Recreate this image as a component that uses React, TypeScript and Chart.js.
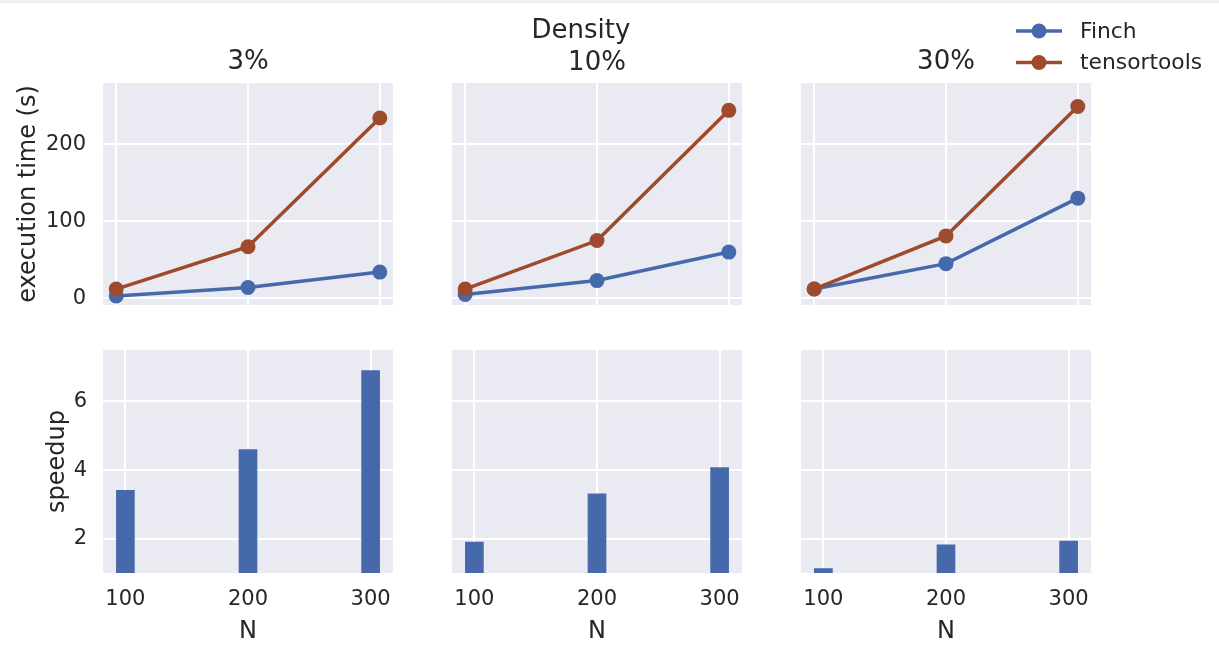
import React, { useEffect, useRef } from "react";
import { Chart, registerables } from "chart.js";

Chart.register(...registerables);

// ---------- data ----------
const N_VALUES = [100, 200, 300];
const DENSITY_LABELS = ["3%", "10%", "30%"];
const SUPTITLE = "Density";
const SERIES_LABELS = ["Finch", "tensortools"];

const FINCH_TIME_3 = [3, 14, 34];
const FINCH_TIME_10 = [5, 23, 60];
const FINCH_TIME_30 = [12, 45, 130];
const TENSORTOOLS_TIME_3 = [12, 67, 234];
const TENSORTOOLS_TIME_10 = [12, 75, 244];
const TENSORTOOLS_TIME_30 = [12, 81, 249];

const SPEEDUP_3 = [3.41, 4.6, 6.9];
const SPEEDUP_10 = [1.9, 3.31, 4.07];
const SPEEDUP_30 = [1.13, 1.82, 1.93];

const TIME_TICKS = [0, 100, 200];
const SPEEDUP_TICKS = [2, 4, 6];
const Y_LABEL_TIME = "execution time (s)";
const Y_LABEL_SPEEDUP = "speedup";
const X_LABEL = "N";

const FINCH_TIMES = [FINCH_TIME_3, FINCH_TIME_10, FINCH_TIME_30];
const TT_TIMES = [TENSORTOOLS_TIME_3, TENSORTOOLS_TIME_10, TENSORTOOLS_TIME_30];
const SPEEDUPS = [SPEEDUP_3, SPEEDUP_10, SPEEDUP_30];

// ---------- style ----------
const FONT = "'DejaVu Sans', 'Liberation Sans', sans-serif";
const TEXT = "#262626";
const PANEL_BG = "#eaeaf2";
const GRID = "#ffffff";
const BLUE = "#4669ab";
const BROWN = "#9f4a2c";
const TICK_SIZE = 21;
const LABEL_SIZE = 24;
const TITLE_SIZE = 26;
const LEGEND_SIZE = 21.8;
const LINE_W = 3.5;
const MARKER_R = 7.5;

// ---------- layout ----------
type Geo = { left: number; top: number; width: number; height: number; yW: number; padR: number; padT: number; xH: number };
const TOP_GEO: Geo[] = [
  { left: 0, top: 0, width: 401, height: 313, yW: 103, padR: 8, padT: 0, xH: 8 },
  { left: 420, top: 0, width: 330, height: 313, yW: 32, padR: 8, padT: 0, xH: 8 },
  { left: 781, top: 0, width: 438, height: 313, yW: 20, padR: 128, padT: 0, xH: 8 },
];
const BOT_GEO: Geo[] = [
  { left: 0, top: 342, width: 401, height: 315, yW: 103, padR: 8, padT: 8, xH: 84 },
  { left: 432, top: 342, width: 318, height: 315, yW: 20, padR: 8, padT: 8, xH: 84 },
  { left: 781, top: 342, width: 318, height: 315, yW: 20, padR: 8, padT: 8, xH: 84 },
];

const bgPlugin = {
  id: "panelBg",
  beforeDraw(chart: any) {
    const { ctx, chartArea: a } = chart;
    ctx.save();
    ctx.fillStyle = PANEL_BG;
    ctx.fillRect(a.left, a.top, a.right - a.left, a.bottom - a.top);
    ctx.restore();
  },
};

const sideLegendPlugin = {
  id: "sideLegend",
  afterDraw(chart: any, _args: any, opts: any) {
    if (!opts || !opts.enabled) return;
    const ctx = chart.ctx;
    ctx.save();
    chart.data.datasets.forEach((ds: any, i: number) => {
      const y = opts.rows[i];
      ctx.strokeStyle = ds.borderColor;
      ctx.lineWidth = LINE_W;
      ctx.beginPath();
      ctx.moveTo(opts.lineX0, y);
      ctx.lineTo(opts.lineX1, y);
      ctx.stroke();
      ctx.fillStyle = ds.borderColor;
      ctx.beginPath();
      ctx.arc((opts.lineX0 + opts.lineX1) / 2, y, MARKER_R, 0, Math.PI * 2);
      ctx.fill();
      ctx.fillStyle = TEXT;
      ctx.font = `${LEGEND_SIZE}px ${FONT}`;
      ctx.textBaseline = "middle";
      ctx.textAlign = "left";
      ctx.fillText(ds.label, opts.textX, y + 1);
    });
    ctx.restore();
  },
};

const noPad = (s: any) => {
  s.paddingTop = 0;
  s.paddingBottom = 0;
  s.paddingLeft = 0;
  s.paddingRight = 0;
};
const setWidth = (w: number) => (s: any) => { s.width = w; noPad(s); };
const setHeight = (h: number) => (s: any) => { s.height = h; noPad(s); };
const setTicks = (vals: number[]) => (s: any) => { s.ticks = vals.map((v) => ({ value: v })); };

function baseOptions(g: Geo) {
  return {
    responsive: false,
    animation: false,
    devicePixelRatio: 1,
    events: [],
    layout: { padding: { top: g.padT, right: g.padR, bottom: 0, left: 0 } },
  };
}

function topConfig(col: number) {
  const g = TOP_GEO[col];
  const first = col === 0;
  const lh = TITLE_SIZE * 1.2;
  const titleOpts =
    col === 1
      ? {
          title: { display: true, text: SUPTITLE, fullSize: true, color: TEXT, font: { family: FONT, size: TITLE_SIZE, weight: "normal" }, padding: { top: 16, bottom: 0 } },
          subtitle: { display: true, text: DENSITY_LABELS[col], fullSize: false, color: TEXT, font: { family: FONT, size: TITLE_SIZE, weight: "normal" }, padding: { top: 0, bottom: 83 - 16 - 2 * lh } },
        }
      : {
          title: { display: true, text: DENSITY_LABELS[col], fullSize: false, color: TEXT, font: { family: FONT, size: TITLE_SIZE, weight: "normal" }, padding: { top: 46.5, bottom: 83 - 46.5 - lh } },
        };
  return {
    type: "line",
    data: {
      datasets: [
        {
          label: SERIES_LABELS[0],
          data: N_VALUES.map((n, i) => ({ x: n, y: FINCH_TIMES[col][i] })),
          borderColor: BLUE,
          backgroundColor: BLUE,
          borderWidth: LINE_W,
          pointRadius: MARKER_R,
          pointBorderWidth: 0,
          pointBackgroundColor: BLUE,
          tension: 0,
          order: 1,
        },
        {
          label: SERIES_LABELS[1],
          data: N_VALUES.map((n, i) => ({ x: n, y: TT_TIMES[col][i] })),
          borderColor: BROWN,
          backgroundColor: BROWN,
          borderWidth: LINE_W,
          pointRadius: MARKER_R,
          pointBorderWidth: 0,
          pointBackgroundColor: BROWN,
          tension: 0,
          order: 0,
        },
      ],
    },
    options: {
      ...baseOptions(g),
      plugins: {
        legend: { display: false },
        tooltip: { enabled: false },
        ...titleOpts,
        sideLegend:
          col === 2
            ? { enabled: true, rows: [31, 62.5], lineX0: 1016 - g.left, lineX1: 1062 - g.left, textX: 1080 - g.left }
            : { enabled: false },
      },
      scales: {
        x: {
          type: "linear",
          min: 90,
          max: 310,
          afterBuildTicks: setTicks(N_VALUES),
          afterFit: setHeight(g.xH),
          ticks: { display: false },
          grid: { color: GRID, lineWidth: 2, drawTicks: false },
          border: { display: false },
        },
        y: {
          type: "linear",
          min: -8.7,
          max: 279.5,
          afterBuildTicks: setTicks(TIME_TICKS),
          afterFit: setWidth(g.yW),
          ticks: { display: first, padding: 17, color: TEXT, font: { family: FONT, size: TICK_SIZE } },
          grid: { color: GRID, lineWidth: 2, drawTicks: false },
          border: { display: false },
          title: { display: first, text: Y_LABEL_TIME, color: TEXT, font: { family: FONT, size: LABEL_SIZE }, padding: { top: 14, bottom: 0 } },
        },
      },
    },
    plugins: [bgPlugin, sideLegendPlugin],
  };
}

function botConfig(col: number) {
  const g = BOT_GEO[col];
  const first = col === 0;
  return {
    type: "bar",
    data: {
      datasets: [
        {
          label: "speedup",
          data: N_VALUES.map((n, i) => ({ x: n, y: SPEEDUPS[col][i] })),
          backgroundColor: BLUE,
          borderWidth: 0,
          barThickness: 18,
        },
      ],
    },
    options: {
      ...baseOptions(g),
      plugins: { legend: { display: false }, tooltip: { enabled: false }, title: { display: false } },
      scales: {
        x: {
          type: "linear",
          min: 81.75,
          max: 318.25,
          offset: false,
          afterBuildTicks: setTicks(N_VALUES),
          afterFit: setHeight(g.xH),
          ticks: { display: true, padding: 14.4, color: TEXT, font: { family: FONT, size: TICK_SIZE }, maxRotation: 0 },
          grid: { color: GRID, lineWidth: 2, drawTicks: false, offset: false },
          border: { display: false },
          title: { display: true, text: X_LABEL, color: TEXT, font: { family: FONT, size: LABEL_SIZE }, padding: { top: 0, bottom: 11 } },
        },
        y: {
          type: "linear",
          min: 1,
          max: 7.5,
          afterBuildTicks: setTicks(SPEEDUP_TICKS),
          afterFit: setWidth(g.yW),
          ticks: { display: first, padding: 16, color: TEXT, font: { family: FONT, size: TICK_SIZE } },
          grid: { color: GRID, lineWidth: 2, drawTicks: false },
          border: { display: false },
          title: { display: first, text: Y_LABEL_SPEEDUP, color: TEXT, font: { family: FONT, size: LABEL_SIZE }, padding: { top: 43, bottom: 0 } },
        },
      },
    },
    plugins: [bgPlugin],
  };
}

const ALL_GEO = [...TOP_GEO, ...BOT_GEO];

export default function App() {
  const refs = useRef<(HTMLCanvasElement | null)[]>([]);
  useEffect(() => {
    const configs = [topConfig(0), topConfig(1), topConfig(2), botConfig(0), botConfig(1), botConfig(2)];
    const charts = configs.map((cfg, i) => new Chart(refs.current[i] as HTMLCanvasElement, cfg as any));
    return () => charts.forEach((c) => c.destroy());
  }, []);
  return (
    <div style={{ position: "absolute", left: 0, top: 0, width: 1219, height: 657, background: "#ffffff", overflow: "hidden" }}>
      <div style={{ position: "absolute", left: 0, top: 0, width: 1219, height: 3, background: "#eeeeee" }} />
      {ALL_GEO.map((g, i) => (
        <canvas
          key={i}
          ref={(el) => {
            refs.current[i] = el;
          }}
          width={g.width}
          height={g.height}
          style={{ position: "absolute", left: g.left, top: g.top, width: g.width, height: g.height }}
        />
      ))}
    </div>
  );
}
